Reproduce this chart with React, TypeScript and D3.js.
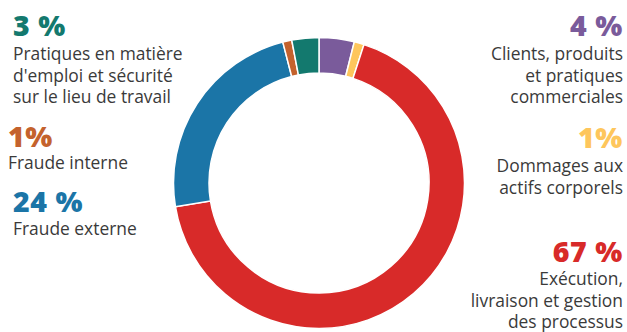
import React from "react";
import * as d3 from "d3";

const categories = [
  "Clients, produits et pratiques commerciales",
  "Dommages aux actifs corporels",
  "Exécution, livraison et gestion des processus",
  "Fraude externe",
  "Fraude interne",
  "Pratiques en matière d'emploi et sécurité sur le lieu de travail",
];
const values = [3.9, 1.1, 67.4, 23.6, 1.0, 3.0];
const colors = ["#7A5B9B", "#FEC65C", "#D82A29", "#1B75A7", "#C4622D", "#13796E"];
const pctLabels = ["4 %", "1%", "67 %", "24 %", "1%", "3 %"];
const labelLines = [
  ["Clients, produits", "et pratiques", "commerciales"],
  ["Dommages aux", "actifs corporels"],
  ["Exécution,", "livraison et gestion", "des processus"],
  ["Fraude externe"],
  ["Fraude interne"],
  ["Pratiques en matière", "d'emploi et sécurité", "sur le lieu de travail"],
];

const W = 627;
const H = 332;
const cx = 319;
const cy = 183;
const rOuter = 145.5;
const rInner = 110;

// label layout: [x, pctBaseline, firstLineBaseline, anchor]
const layout: [number, number, number, string][] = [
  [623, 36, 60, "end"],
  [623, 148, 172, "end"],
  [623, 262, 285, "end"],
  [13, 212, 235, "start"],
  [8, 147, 169, "start"],
  [13, 36, 60, "start"],
];

export default function App() {
  const pie = d3.pie<number>().sort(null).value((d) => d).startAngle(0).endAngle(2 * Math.PI);
  const arcs = pie(values);
  const arc = d3.arc<d3.PieArcDatum<number>>().innerRadius(rInner).outerRadius(rOuter);
  const font = "'Open Sans', sans-serif";
  return (
    <svg width={W} height={H} style={{ position: "absolute", left: 0, top: 0 }}>
      <rect width={W} height={H} fill="#ffffff" />
      <g transform={`translate(${cx},${cy})`}>
        {arcs.map((a, i) => (
          <path key={categories[i]} d={arc(a) || ""} fill={colors[i]} stroke="#ffffff" strokeWidth={1.5} />
        ))}
      </g>
      {categories.map((c, i) => {
        const [x, pb, lb, anchor] = layout[i];
        return (
          <g key={c} fontFamily={font} textAnchor={anchor}>
            <text x={x} y={pb} fontSize={28.5} fontWeight={800} fill={colors[i]} letterSpacing={0.6}>
              {pctLabels[i]}
            </text>
            {labelLines[i].map((l, j) => (
              <text key={j} x={x} y={lb + j * 21.5} fontSize={17.4} fill="#3a3a3a">
                {l}
              </text>
            ))}
          </g>
        );
      })}
    </svg>
  );
}
